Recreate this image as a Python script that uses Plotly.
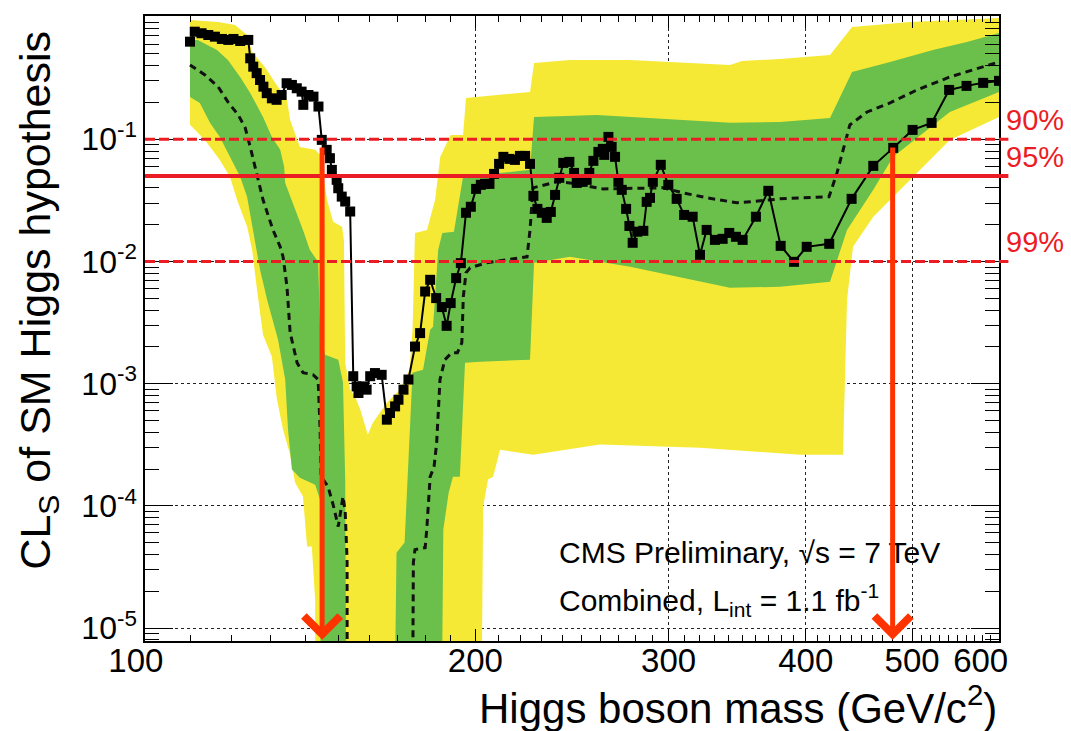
import numpy as np
import plotly.graph_objects as go

# ---------------- data ----------------
# observed CLs of the SM Higgs hypothesis vs Higgs mass (GeV/c^2)
obs_mass = [109.9, 111.0, 112.6, 114.2, 115.8, 117.5, 119.1, 120.4, 122.1, 124.2,
            124.7, 125.5, 126.4, 127.3, 128.2, 129.1, 130.5, 131.8, 133.2, 134.6,
            136.1, 137.5, 138.9, 139.4, 140.9, 142.4, 143.9, 144.9, 146.4, 147.4,
            148.0, 149.5, 150.0, 151.1, 152.2, 153.8, 154.8, 155.9, 156.5, 158.1,
            159.2, 160.4, 162.0, 164.3, 166.1, 167.2, 169.0, 170.2, 172.0, 173.8,
            176.2, 178.1, 180.0, 181.9, 184.2, 186.4, 188.3, 189.9, 192.1, 194.0,
            196.1, 198.1, 200.3, 202.3, 204.1, 206.0, 208.0, 210.2, 212.1, 214.8,
            217.3, 219.6, 222.0, 224.3, 225.9, 227.8, 229.9, 232.3, 234.3, 236.4,
            238.5, 240.5, 243.6, 246.0, 247.4, 250.5, 252.6, 254.0, 256.2, 258.9,
            261.3, 262.1, 264.4, 266.2, 268.1, 270.0, 271.9, 274.4, 276.3, 278.2,
            280.9, 284.5, 286.5, 288.5, 290.2, 295.1, 299.8, 305.1, 309.9, 315.5,
            320.4, 324.9, 330.6, 336.0, 340.7, 345.5, 350.4, 360.3, 369.8, 379.5,
            390.3, 400.8, 420.2, 440.4, 460.9, 480.6, 500.5, 520.9, 540.4, 560.5,
            580.4, 600.0]
obs_cls = [0.628, 0.758, 0.736, 0.712, 0.690, 0.661, 0.649, 0.661, 0.636, 0.649,
           0.459, 0.392, 0.347, 0.305, 0.269, 0.238, 0.216, 0.210, 0.230, 0.287,
           0.278, 0.261, 0.245, 0.191, 0.230, 0.223, 0.185, 0.0987, 0.0818, 0.0699,
           0.0561, 0.0465, 0.0397, 0.0339, 0.0309, 0.0256, 0.00115, 0.000949, 0.000838, 0.000949,
           0.000892, 0.00115, 0.00122, 0.00118, 0.000507, 0.000575, 0.000651, 0.000738, 0.000892, 0.00108,
           0.00201, 0.00259, 0.00567, 0.00707, 0.00501, 0.00423, 0.00297, 0.00456, 0.00730, 0.00968,
           0.0250, 0.0280, 0.0392, 0.0423, 0.0431, 0.0431, 0.0520, 0.0628, 0.0717, 0.0690,
           0.0677, 0.0730, 0.0730, 0.0628, 0.0344, 0.0269, 0.0250, 0.0227, 0.0254, 0.0350,
           0.0483, 0.0640, 0.0652, 0.0530, 0.0439, 0.0448, 0.0465, 0.0530, 0.0665, 0.0787,
           0.0833, 0.0744, 0.1044, 0.0865, 0.0717, 0.0448, 0.0385, 0.0269, 0.0195, 0.0142,
           0.0175, 0.0178, 0.0307, 0.0331, 0.0448, 0.0617, 0.0423, 0.0325, 0.0240, 0.0232,
           0.01132, 0.0181, 0.0150, 0.0153, 0.0171, 0.0159, 0.0150, 0.0232, 0.0378, 0.0134,
           0.00992, 0.01316, 0.01393, 0.0325, 0.0605, 0.0849, 0.1191, 0.1359, 0.253, 0.273,
           0.289, 0.300]

# median expected CLs (values far below the axis stand for "off scale")
exp_mass = [109.9, 113.4, 116.6, 119.0, 121.6, 123.4, 124.7, 126.5, 128.1, 130.8,
            132.8, 133.6, 134.7, 135.6, 137.6, 139.3, 142.3, 143.8, 144.4, 144.7,
            146.8, 148.4, 150.0, 151.5, 152.2, 152.8, 152.9, 175.0, 175.6, 176.2,
            180.0, 180.6, 181.9, 183.4, 184.4, 185.7, 187.6, 190.3, 192.6, 194.4,
            195.0, 196.1, 197.8, 202.0, 204.8, 222.9, 224.3, 225.7, 237.4, 243.9,
            261.4, 296.5, 309.2, 325.2, 346.2, 355.8, 379.0, 420.0, 427.1, 438.8,
            454.9, 477.4, 505.1, 541.2, 580.1, 600.0]
exp_cls = [0.405, 0.3355, 0.2678, 0.2018, 0.158, 0.1237, 0.0865, 0.0492, 0.0319, 0.0181,
           0.01316, 0.0109, 0.0062, 0.00261, 0.00148, 0.00123, 0.00118, 0.00108, 0.00042, 0.000173,
           0.000144, 0.000102, 0.0000676, 0.000119, 0.0000897, 0.0000363, 1e-7, 1e-7, 3.43e-5, 4.38e-5,
           4.55e-5, 6.39e-5, 1.73e-4, 2.09e-4, 3.29e-4, 1.08e-3, 1.57e-3, 1.79e-3, 1.79e-3, 2.16e-3,
           5.14e-3, 8.07e-3, 8.87e-3, 9.38e-3, 9.74e-3, 0.0109, 0.0181, 0.0400, 0.0448, 0.0439,
           0.0392, 0.0400, 0.0364, 0.0331, 0.0302, 0.0307, 0.0325, 0.0338, 0.0530, 0.131,
           0.167, 0.198, 0.253, 0.323, 0.390, 0.429]

# expected +-2 sigma band edges
band2_hi_mass = [109.9, 116.6, 120.8, 123.9, 125.2, 128.6, 131.4, 134.7, 135.6, 138.4,
                 142.9, 144.4, 146.5, 148.4, 151.2, 151.8, 152.2, 153.8, 155.4, 157.1,
                 159.6, 161.3, 166.1, 170.6, 174.2, 175.3, 176.2, 180.7, 183.8, 185.8,
                 189.9, 194.9, 196.1, 224.3, 226.2, 243.9, 276.7, 341.2, 349.9, 379.0,
                 420.9, 440.8, 497.7, 600.0]
band2_hi = [0.945, 0.910, 0.860, 0.712, 0.517, 0.390, 0.289, 0.210, 0.1438, 0.0865,
            0.0818, 0.0744, 0.0319, 0.0211, 0.0192, 0.0150, 0.00148, 0.00089, 0.00078, 0.000612,
            0.000382, 0.000479, 0.000698, 0.00089, 0.0013, 0.00276, 0.0171, 0.0181, 0.0319, 0.0717,
            0.1084, 0.1084, 0.2177, 0.2436, 0.421, 0.445, 0.445, 0.405, 0.437, 0.453,
            0.489, 0.828, 0.910, 0.981]
band2_lo_mass = [109.9, 113.4, 117.0, 119.5, 121.3, 123.9, 125.2, 126.5, 128.1, 130.5,
                 131.9, 133.6, 135.6, 137.0, 139.3, 140.5, 141.9, 142.9, 143.2, 202.0,
                 203.3, 205.4, 207.6, 210.6, 225.7, 259.8, 320.4, 395.2, 432.5, 436.2,
                 441.7, 460.9, 541.2, 600.0]
band2_lo = [0.131, 0.0987, 0.0677, 0.0492, 0.0319, 0.0192, 0.01244, 0.00586, 0.00251, 0.00166,
            0.00074, 0.00042, 0.000262, 0.000155, 0.000119, 0.0000464, 0.0000464, 0.0000171, 1e-7, 1e-7,
            0.0000985, 0.000164, 0.000173, 0.000288, 0.000262, 0.000317, 0.000299, 0.000262, 0.000262, 0.00485,
            0.01316, 0.0232, 0.0987, 0.152]

# expected +-1 sigma band edges
band1_hi_mass = [109.9, 111.7, 116.3, 119.0, 122.1, 124.7, 128.1, 130.5, 132.8, 133.9,
                 134.2, 136.4, 139.3, 141.3, 143.8, 144.4, 145.9, 150.0, 151.5, 152.2,
                 152.8, 168.1, 169.5, 172.4, 175.3, 179.2, 181.9, 183.0, 185.0, 186.6,
                 191.2, 194.9, 224.3, 226.2, 258.2, 341.2, 379.0, 420.9, 440.8, 477.4,
                 522.3, 560.9, 600.0]
band1_hi = [0.649, 0.649, 0.537, 0.445, 0.323, 0.239, 0.152, 0.1044, 0.0818, 0.0594,
            0.0439, 0.0301, 0.0181, 0.01244, 0.00992, 0.00276, 0.00172, 0.00157, 0.00102, 0.000164,
            1e-7, 1e-7, 0.0000414, 0.00005, 0.00123, 0.0013, 0.00276, 0.00292, 0.01244, 0.0171,
            0.0175, 0.0492, 0.0561, 0.152, 0.158, 0.136, 0.1385, 0.149, 0.355, 0.429,
            0.537, 0.625, 0.740]
band1_lo_mass = [109.9, 112.2, 114.6, 117.0, 119.5, 122.1, 123.9, 125.4, 127.3, 129.2,
                 132.2, 134.2, 135.0, 136.1, 138.4, 142.9, 144.4, 144.7, 185.8, 187.0,
                 189.1, 190.8, 193.6, 195.7, 202.0, 224.3, 226.2, 243.9, 276.7, 341.2,
                 379.0, 420.9, 436.2, 460.9, 480.6, 541.2, 600.0]
band1_lo = [0.2218, 0.198, 0.136, 0.1044, 0.0717, 0.0492, 0.0337, 0.0181, 0.00854, 0.00485,
            0.00229, 0.00108, 0.00042, 0.000198, 0.00017, 0.000149, 0.000112, 1e-7, 1e-7, 0.0000639,
            0.000128, 0.000173, 0.000173, 0.00148, 0.00151, 0.00157, 0.00974, 0.0109, 0.00903, 0.00608,
            0.0062, 0.00681, 0.0181, 0.0385, 0.0717, 0.167, 0.2436]

# confidence-level thresholds and their labels
cl_values = [0.1, 0.05, 0.01]
cl_labels = ["90%", "95%", "99%"]
cl_dash = ["10px,4px", "solid", "10px,4px"]

# 90% CL exclusion edges (arrow positions) and arrow start value
excl_mass = [145.0, 480.0]
arrow_top = 0.088

# axis ticks
x_major = [100, 200, 300, 400, 500, 600]
x_major_text = ["100\u00a0\u00a0", "200", "300", "400", "500", "600\u00a0\u00a0\u00a0\u00a0"]
x_minor = [m for m in range(110, 600, 10) if m % 100 != 0]
y_major = [1e-5, 1e-4, 1e-3, 1e-2, 1e-1, 1.0]
y_major_text = ["10<sup>-5</sup>", "10<sup>-4</sup>", "10<sup>-3</sup>",
                "10<sup>-2</sup>", "10<sup>-1</sup>", "1"]
y_minor = [k * 10.0 ** d for d in range(-6, 0) for k in range(2, 10)]

YELLOW = "#f6e936"
GREEN = "#6bbf4b"
RED = "#ec1c24"
ARROW = "#ff3300"
FONT = "Liberation Sans, Arial, Helvetica, sans-serif"

fig = go.Figure()

# 2 sigma band
fig.add_trace(go.Scatter(
    x=band2_hi_mass + band2_lo_mass[::-1],
    y=band2_hi + band2_lo[::-1],
    fill="toself", fillcolor=YELLOW, mode="lines", line=dict(width=0),
    hoverinfo="skip", showlegend=False))
# 1 sigma band
fig.add_trace(go.Scatter(
    x=band1_hi_mass + band1_lo_mass[::-1],
    y=band1_hi + band1_lo[::-1],
    fill="toself", fillcolor=GREEN, mode="lines", line=dict(width=0),
    hoverinfo="skip", showlegend=False))
# expected median
fig.add_trace(go.Scatter(
    x=exp_mass, y=exp_cls, mode="lines",
    line=dict(color="#111111", width=3, dash="7px,5px"),
    showlegend=False))
# observed
fig.add_trace(go.Scatter(
    x=obs_mass, y=obs_cls, mode="lines+markers",
    line=dict(color="black", width=2),
    marker=dict(symbol="square", size=10, color="black"),
    showlegend=False))

# CL threshold lines and labels
for val, lab, dash in zip(cl_values, cl_labels, cl_dash):
    fig.add_shape(type="line", xref="paper", yref="y",
                  x0=0, x1=1.011, y0=val, y1=val,
                  line=dict(color=RED, width=4 if dash == "solid" else 3, dash=dash),
                  layer="above")
    fig.add_annotation(xref="paper", yref="y", x=1.006, y=np.log10(val),
                       text=lab, showarrow=False, xanchor="left", yanchor="bottom",
                       yshift=1, font=dict(family=FONT, size=29, color=RED))

# CMS labels
fig.add_annotation(xref="paper", yref="paper", x=0.482, y=0.142,
                   text="CMS Preliminary, \u221as = 7 TeV", showarrow=False,
                   xanchor="left", yanchor="middle",
                   font=dict(family=FONT, size=30, color="black"))
fig.add_annotation(xref="paper", yref="paper", x=0.482, y=0.066,
                   text="Combined, L<sub>int</sub> = 1.1 fb<sup>-1</sup>", showarrow=False,
                   xanchor="left", yanchor="middle",
                   font=dict(family=FONT, size=30, color="black"))

# exclusion arrows
y_lo, y_hi = -5.106, 0.008
for m in excl_mass:
    fig.add_annotation(xref="x", yref="y", axref="x", ayref="y",
                       x=np.log10(m), y=y_lo + 0.01,
                       ax=np.log10(m), ay=np.log10(arrow_top),
                       text="", showarrow=True, arrowhead=4, arrowsize=1.4,
                       arrowwidth=5, arrowcolor=ARROW, standoff=0)

# axis titles
fig.add_annotation(xref="paper", yref="paper", x=1.0, y=-0.103,
                   text="Higgs boson mass (GeV/c<sup>2</sup>)", showarrow=False,
                   xanchor="right", yanchor="middle",
                   font=dict(family=FONT, size=42, color="black"))
fig.add_annotation(xref="paper", yref="paper", x=-0.125, y=0.545,
                   text="CL<sub>S</sub> of SM Higgs hypothesis", showarrow=False,
                   textangle=-90, xanchor="center", yanchor="middle",
                   font=dict(family=FONT, size=43, color="black"))

fig.update_xaxes(
    type="log", range=[np.log10(100), np.log10(600)],
    tickmode="array", tickvals=x_major, ticktext=x_major_text,
    ticks="inside", ticklen=12, tickwidth=1.2, tickcolor="black",
    ticklabelstandoff=-10,
    minor=dict(tickmode="array", tickvals=x_minor, ticks="inside", ticklen=6,
               tickwidth=1, tickcolor="black", showgrid=False),
    showline=True, linecolor="black", linewidth=1.5, mirror="allticks",
    showgrid=True, gridcolor="#222222", gridwidth=1, griddash="dot",
    zeroline=False, tickfont=dict(family=FONT, size=33, color="black"))
fig.update_yaxes(
    type="log", range=[y_lo, y_hi],
    tickmode="array", tickvals=y_major, ticktext=y_major_text,
    ticks="inside", ticklen=28, tickwidth=1.2, tickcolor="black",
    minor=dict(tickmode="array", tickvals=y_minor, ticks="inside", ticklen=14,
               tickwidth=1, tickcolor="black", showgrid=False),
    showline=True, linecolor="black", linewidth=1.5, mirror="allticks",
    showgrid=True, gridcolor="#222222", gridwidth=1, griddash="dot",
    zeroline=False, tickfont=dict(family=FONT, size=32, color="black"))

fig.update_layout(
    width=1071, height=731, autosize=False,
    margin=dict(l=145, r=72, t=16, b=90),
    paper_bgcolor="white", plot_bgcolor="white",
    showlegend=False)

fig.write_html("out.html")
